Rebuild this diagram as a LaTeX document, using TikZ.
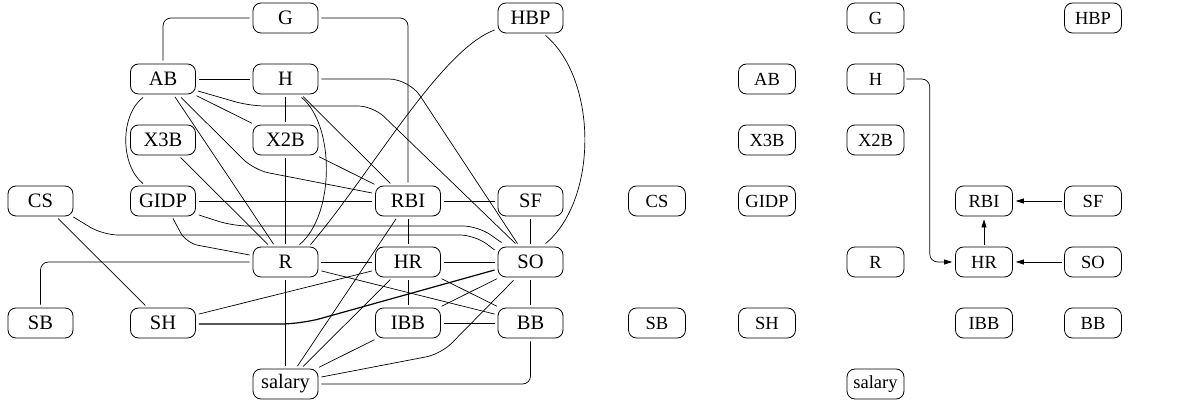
\documentclass[tikz,border=0pt]{standalone}
\usepackage{fontspec}
\setmainfont{Liberation Serif}
\usetikzlibrary{arrows.meta,calc}
\begin{document}
\begin{tikzpicture}[x=1pt,y=-1pt,
  lbox/.style={draw, rounded corners=8pt, minimum width=65pt, minimum height=30pt, inner sep=0pt, font=\fontsize{20.5}{24}\selectfont, line width=0.8pt},
  rbox/.style={draw, rounded corners=8pt, minimum width=57pt, minimum height=30pt, inner sep=0pt, font=\fontsize{18.5}{22}\selectfont, line width=0.8pt},
  edge/.style={line width=0.7pt, shorten <=3pt, shorten >=3pt},
  cedge/.style={line width=0.7pt},
  cthick/.style={line width=1.2pt},
  arr/.style={line width=0.7pt, -{Triangle[length=8pt,width=5pt]}, shorten <=2pt, shorten >=3pt},
]
\useasboundingbox (0,0) rectangle (1187,406);
% left graph nodes
\node[lbox] (lG) at (285.5,18) {G};
\node[lbox] (lHBP) at (530.5,18) {HBP};
\node[lbox] (lAB) at (163,79) {AB};
\node[lbox] (lH) at (285.5,79) {H};
\node[lbox] (lX3B) at (163,140) {X3B};
\node[lbox] (lX2B) at (285.5,140) {X2B};
\node[lbox] (lCS) at (40.5,201) {CS};
\node[lbox] (lGIDP) at (163,201) {GIDP};
\node[lbox] (lRBI) at (408,201) {RBI};
\node[lbox] (lSF) at (530.5,201) {SF};
\node[lbox] (lR) at (285.5,262) {R};
\node[lbox] (lHR) at (408,262) {HR};
\node[lbox] (lSO) at (530.5,262) {SO};
\node[lbox] (lSB) at (40.5,323) {SB};
\node[lbox] (lSH) at (163,323) {SH};
\node[lbox] (lIBB) at (408,323) {IBB};
\node[lbox] (lBB) at (530.5,323) {BB};
\node[lbox] (lsalary) at (285.5,384) {salary};
% right graph nodes
\node[rbox] (rG) at (875.5,18) {G};
\node[rbox] (rHBP) at (1093,18) {HBP};
\node[rbox] (rAB) at (767,79) {AB};
\node[rbox] (rH) at (875.5,79) {H};
\node[rbox] (rX3B) at (767,140) {X3B};
\node[rbox] (rX2B) at (875.5,140) {X2B};
\node[rbox] (rCS) at (657,201) {CS};
\node[rbox] (rGIDP) at (767,201) {GIDP};
\node[rbox] (rRBI) at (984,201) {RBI};
\node[rbox] (rSF) at (1093,201) {SF};
\node[rbox] (rR) at (875.5,262) {R};
\node[rbox] (rHR) at (984,262) {HR};
\node[rbox] (rSO) at (1093,262) {SO};
\node[rbox] (rSB) at (657,323) {SB};
\node[rbox] (rSH) at (767,323) {SH};
\node[rbox] (rIBB) at (984,323) {IBB};
\node[rbox] (rBB) at (1093,323) {BB};
\node[rbox] (rsalary) at (875.5,384) {salary};
% left graph edges
\draw[edge, rounded corners=8pt] (lAB.north) |- (lG.west);
\draw[edge, rounded corners=8pt] (lG.east) -| (lRBI.north);
\draw[edge] (lAB) -- (lH);
\draw[edge] (lAB) -- (lX2B);
\draw[edge] (lAB) -- (lR);
\draw[edge] (lX3B) -- (lR);
\draw[edge] (lX2B) -- (lR);
\draw[edge] (lH) -- (lX2B);
\draw[edge] (lX2B) -- (lRBI);
\draw[edge] (lH) -- (lRBI);
\draw[edge] (lGIDP) -- (lRBI);
\draw[edge] (lRBI) -- (lSF);
\draw[edge] (lRBI) -- (lHR);
\draw[edge] (lHR) -- (lIBB);
\draw[edge] (lR) -- (lHR);
\draw[edge] (lHR) -- (lSO);
\draw[edge] (lSF) -- (lSO);
\draw[edge] (lSO) -- (lBB);
\draw[edge] (lIBB) -- (lBB);
\draw[edge] (lR) -- (lsalary);
\draw[edge] (lR) -- (lBB);
\draw[edge] (lHR) -- (lBB);
\draw[edge] (lSO) -- (lIBB);
\draw[edge] (lHR) -- (lSH);
\draw[edge] (lHR) -- (lsalary);
\draw[edge] (lIBB) -- (lsalary);
\draw[edge] (lRBI) -- (lsalary);
\draw[edge] (lCS) -- (lSH);
\draw[cedge] ($(lAB.south)+(-20,3)$) .. controls (120,115) and (120,165) .. ($(lGIDP.north)+(-20,-2)$);
\draw[cedge] ($(lH.south)+(16,3)$) .. controls (335,125) and (335,215) .. ($(lR.north)+(14,-2)$);
\draw[cedge] ($(lHBP.west)+(-3,12)$) .. controls (440,50) and (370,175) .. ($(lR.north)+(25,-2)$);
\draw[cedge] ($(lHBP.south)+(15,2)$) .. controls (598,80) and (598,200) .. ($(lSO.north)+(15,-3)$);
\draw[cedge, rounded corners=20pt] ($(lH.east)+(3,0)$) -- (409,79) -- ($(lSO.north)+(-13,-3)$);
\draw[cedge, rounded corners=15pt] ($(lAB.east)+(2,12)$) -- (250,106) -- (373,106) -- ($(lSO.north)+(-15,-3)$);
\draw[cedge, rounded corners=15pt] ($(lAB.south)+(18,3)$) -- (254,170) -- ($(lRBI.west)+(-3,-8)$);
\draw[cedge, rounded corners=12pt] ($(lGIDP.south)+(10,2)$) -- (186,243) -- ($(lR.west)+(-3,-7)$);
\draw[cedge, rounded corners=15pt] ($(lGIDP.east)+(3,14)$) -- (233,226) -- (478,226) -- ($(lSO.north west)+(4,-4)$);
\draw[cedge, rounded corners=15pt] ($(lCS.east)+(0,16)$) -- (103,235) -- (475,235) -- ($(lSO.west)+(-3,-12)$);
\draw[edge, rounded corners=8pt] (lSB.north) |- (lR.west);
\draw[cthick, rounded corners=20pt] ($(lSH.east)+(3,1)$) -- (301,324) -- ($(lSO.west)+(-3,8)$);
\draw[cedge, rounded corners=15pt] ($(lSO.south)+(-17,3)$) -- (441,354) -- ($(lsalary.east)+(3,-7)$);
\draw[edge, rounded corners=8pt] (lBB.south) |- (lsalary.east);
% right graph edges
\draw[arr, rounded corners=8pt] (rH.east) -| ($(rH.east)!0.5!(rHR.west)$) |- (rHR.west);
\draw[arr] (rHR) -- (rRBI);
\draw[arr] (rSF) -- (rRBI);
\draw[arr] (rSO) -- (rHR);
\end{tikzpicture}
\end{document}
